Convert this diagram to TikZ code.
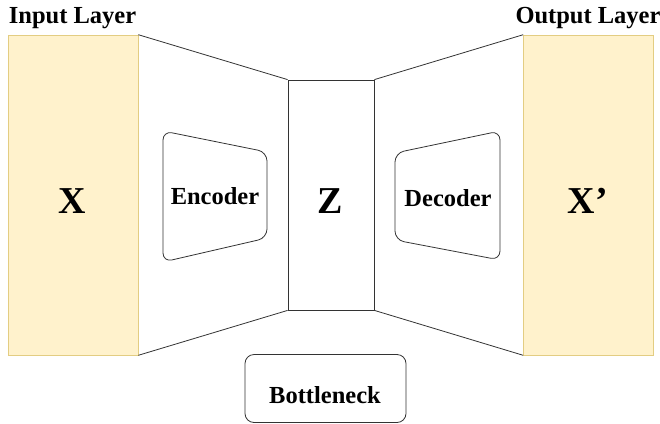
\documentclass[tikz,border=0pt]{standalone}
\usepackage{fontspec}
\setmainfont{Liberation Serif}
\begin{document}
\begin{tikzpicture}[x=1pt,y=-1pt,
  layer/.style={draw=layerline, fill=layerfill, line width=0.6pt, minimum width=130pt, minimum height=320pt, inner sep=0pt},
  outline/.style={draw=edge, line width=0.8pt},
  label/.style={font=\bfseries\fontsize{24.5}{27}\selectfont, inner sep=0pt},
  big/.style={font=\bfseries\fontsize{38}{40}\selectfont, inner sep=0pt}]
\definecolor{layerfill}{HTML}{FFF2CC}
\definecolor{layerline}{HTML}{E3CD82}
\definecolor{edge}{HTML}{333333}
\useasboundingbox (0,0) rectangle (660,423);

% input and output layers
\node[layer] (in) at (73,195) {};
\node[layer] (out) at (588.5,195) {};
% latent code
\node[outline, minimum width=86pt, minimum height=230pt, inner sep=0pt] (z) at (331,195) {};

% funnel edges
\draw[outline] (in.north east) -- (z.north west);
\draw[outline] (in.south east) -- (z.south west);
\draw[outline] (z.north east) -- (out.north west);
\draw[outline] (z.south east) -- (out.south west);

% encoder and decoder blocks
\draw[outline, rounded corners=9pt] (163,131) -- (267,152) -- (267,238) -- (163,262) -- cycle;
\draw[outline, rounded corners=9pt] (395,153) -- (500,131) -- (500,260) -- (395,240) -- cycle;

% bottleneck box
\node[outline, rounded corners=9pt, minimum width=161pt, minimum height=68pt, inner sep=0pt] (bn) at (325.5,388.5) {};

% texts
\node[label] (tin) at (72.5,18) {Input Layer};
\node[label] (tout) at (588,18) {Output Layer};
\node[label] (tenc) at (215,196) {Encoder};
\node[label] (tdec) at (448,198) {Decoder};
\node[label] (tbn) at (325,395) {Bottleneck};
\node[big] (tx) at (72,201) {X};
\node[big] (tz) at (330,201) {Z};
\node[big] (txp) at (588,201) {X’};
\end{tikzpicture}
\end{document}
